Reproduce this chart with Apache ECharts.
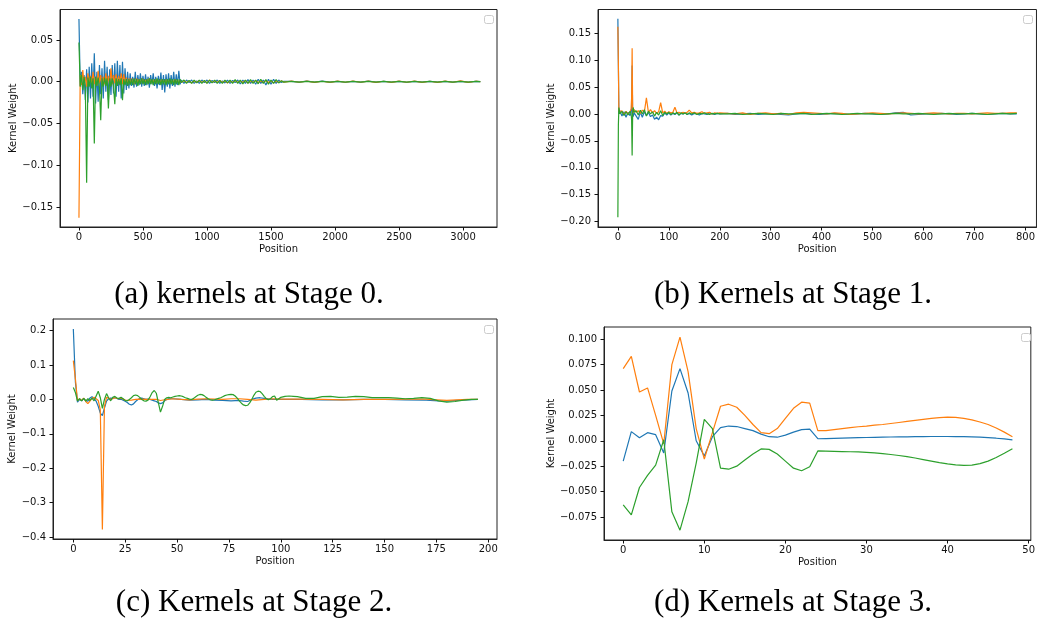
<!DOCTYPE html>
<html>
<head>
<meta charset="utf-8">
<script src="https://cdn.jsdelivr.net/npm/echarts@6/dist/echarts.min.js"></script>
<style>
  html, body { margin: 0; padding: 0; background: #fff; }
  #main { width: 1038px; height: 625px; }
</style>
</head>
<body>
<div id="main"></div>
<script>
// ---- Stage 0 (positions shared by the three kernels) ----
var s0Pos = [
  0, 10, 20, 30, 40, 50, 60, 70, 80, 90,
  100, 110, 120, 130, 140, 150, 160, 170, 180, 190,
  200, 210, 220, 230, 240, 250, 260, 270, 280, 290,
  300, 310, 320, 330, 340, 350, 360, 370, 380, 390,
  400, 410, 420, 430, 440, 450, 460, 470, 480, 490,
  500, 510, 520, 530, 540, 550, 560, 570, 580, 590,
  600, 610, 620, 630, 640, 650, 660, 670, 680, 690,
  700, 710, 720, 730, 740, 750, 760, 770, 780, 790,
  800,
  820, 840, 860, 880, 900, 920, 940, 960, 980, 1000,
  1020, 1040, 1060, 1080, 1100, 1120, 1140, 1160, 1180, 1200,
  1220, 1240, 1260, 1280, 1300, 1320, 1340, 1360, 1380, 1400,
  1420, 1440, 1460, 1480, 1500, 1520, 1540, 1560, 1580, 1600,
  1660, 1720, 1780, 1840, 1900, 1960, 2020, 2080, 2140, 2200,
  2260, 2320, 2380, 2440, 2500, 2560, 2620, 2680, 2740, 2800,
  2860, 2920, 2980, 3040, 3100, 3135
];
var s0Blue = [
  0.075, -0.005, 0.012, -0.015, 0.008, -0.022, 0.015, -0.025, 0.018, -0.02,
  0.022, -0.018, 0.034, -0.026, 0.012, -0.024, 0.02, -0.015, 0.016, -0.02,
  0.025, -0.012, 0.018, -0.022, 0.015, -0.016, 0.02, -0.014, 0.022, -0.018,
  0.025, -0.012, 0.02, -0.02, 0.024, -0.014, 0.016, -0.01, 0.012, -0.008,
  0.01, -0.005, 0.006, -0.007, 0.012, -0.006, 0.008, -0.004, 0.01, -0.006,
  0.007, -0.005, 0.009, -0.004, 0.006, -0.007, 0.008, -0.003, 0.01, -0.005,
  0.006, -0.008, 0.007, -0.004, 0.011, -0.01, 0.008, -0.013, 0.009, -0.006,
  0.01, -0.008, 0.008, -0.005, 0.012, -0.006, 0.009, -0.004, 0.013, -0.003,
  0.002,
  -0.002, 0.002, -0.001, 0.002, -0.002, 0.001, -0.002, 0.002, -0.001, 0.002,
  -0.002, 0.0015, -0.001, 0.002, -0.002, 0.001, -0.0015, 0.002, -0.002, 0.0015,
  -0.001, 0.002, -0.0025, 0.002, -0.002, 0.0025, -0.002, 0.002, -0.003, 0.003,
  -0.002, 0.002, -0.004, 0.003, -0.003, 0.003, -0.002, 0.002, -0.001, 0.0005,
  0.0005, -0.0005, 0.0008, -0.0004, 0.0006, -0.0005, 0.0004, -0.0006, 0.0005, -0.0004,
  0.0006, -0.0005, 0.0004, -0.0005, 0.0005, -0.0006, 0.0004, -0.0005, 0.0005, -0.0004,
  0.0005, -0.0005, 0.0004, -0.0004, 0.0003, 0.0
];
var s0Orange = [
  -0.163, 0.008, -0.004, 0.014, -0.003, 0.006, -0.006, 0.01, -0.002, 0.007,
  -0.004, 0.012, -0.003, 0.006, -0.005, 0.013, -0.002, 0.008, -0.004, 0.006,
  -0.003, 0.01, -0.002, 0.007, -0.004, 0.016, -0.003, 0.008, -0.002, 0.009,
  -0.004, 0.007, -0.002, 0.01, -0.003, 0.009, -0.002, 0.005, -0.003, 0.004,
  -0.002, 0.004, -0.002, 0.003, -0.003, 0.004, -0.001, 0.003, -0.002, 0.004,
  -0.002, 0.003, -0.001, 0.003, -0.002, 0.004, -0.002, 0.002, -0.001, 0.003,
  -0.002, 0.003, -0.001, 0.002, -0.002, 0.003, -0.001, 0.002, -0.002, 0.003,
  -0.001, 0.002, -0.002, 0.002, -0.001, 0.003, -0.001, 0.002, -0.002, 0.002,
  -0.001,
  0.0015, -0.001, 0.001, -0.0015, 0.001, -0.001, 0.0015, -0.001, 0.001, -0.0015,
  0.002, -0.001, 0.001, -0.001, 0.0015, -0.001, 0.001, -0.0015, 0.001, -0.001,
  0.0015, -0.001, 0.001, -0.001, 0.0015, -0.0015, 0.001, -0.001, 0.0015, -0.001,
  0.001, -0.001, 0.0015, -0.001, 0.001, -0.0015, 0.001, -0.001, 0.001, -0.0005,
  0.0008, -0.0006, 0.0007, -0.0008, 0.0006, -0.0007, 0.0008, -0.0006, 0.0007, -0.0006,
  0.0008, -0.0007, 0.0006, -0.0008, 0.0007, -0.0006, 0.0008, -0.0007, 0.0006, -0.0007,
  0.0008, -0.0006, 0.001, -0.0007, 0.0006, 0.0
];
var s0Green = [
  0.047, -0.006, 0.008, -0.01, 0.006, -0.008, -0.121, 0.005, -0.006, 0.006,
  -0.008, 0.004, -0.074, 0.006, -0.005, 0.005, -0.007, -0.046, 0.004, -0.006,
  0.005, -0.005, 0.004, -0.032, 0.004, -0.006, 0.004, -0.005, -0.027, 0.004,
  -0.005, 0.003, -0.004, 0.004, -0.022, 0.003, -0.004, 0.003, -0.005, 0.003,
  -0.004, 0.003, -0.004, 0.004, -0.003, 0.003, -0.005, 0.003, -0.003, 0.004,
  -0.003, 0.003, -0.004, 0.003, -0.003, 0.004, -0.003, 0.003, -0.004, 0.003,
  -0.003, 0.004, -0.003, 0.003, -0.004, 0.003, -0.003, 0.003, -0.004, 0.003,
  -0.003, 0.004, -0.003, 0.003, -0.004, 0.003, -0.003, 0.003, -0.004, 0.003,
  -0.001,
  0.002, -0.002, 0.0015, -0.002, 0.002, -0.0015, 0.002, -0.002, 0.0015, -0.002,
  0.002, -0.0015, 0.002, -0.002, 0.0015, -0.002, 0.002, -0.0015, 0.002, -0.002,
  0.0025, -0.002, 0.002, -0.0025, 0.002, -0.002, 0.0025, -0.002, 0.002, -0.0025,
  0.003, -0.002, 0.0025, -0.003, 0.002, -0.002, 0.0025, -0.0015, 0.001, -0.0005,
  0.0005, -0.0005, 0.0004, -0.0005, 0.0005, -0.0004, 0.0005, -0.0005, 0.0004, -0.0005,
  0.0005, -0.0004, 0.0005, -0.0005, 0.0004, -0.0005, 0.0005, -0.0004, 0.0005, -0.0005,
  0.0004, -0.0005, 0.0005, -0.0004, 0.0004, 0.0
];

// ---- Stage 1 ----
var s1Pos = [
  0, 1, 2, 4, 8, 12, 16, 20, 24, 26,
  27, 28, 29, 30, 32, 36, 40, 44, 48, 52,
  56, 60, 64, 68, 72, 76, 80, 84, 88, 92,
  96, 100, 104, 108, 112, 116, 120, 124, 128, 132,
  136, 140,
  145, 150, 155, 160, 165, 170, 175, 180, 185, 190, 195, 200,
  215, 230, 245, 260, 275, 290, 305, 320, 335, 350,
  365, 380, 395, 410, 425, 440, 455, 470, 485, 500,
  515, 530, 545, 560, 575, 590, 605, 620, 635, 650,
  665, 680, 695, 710, 725, 740, 755, 770,
  783
];
var s1Blue = [
  0.177, 0.09, 0.0, 0.006, -0.004, 0.004, -0.006, 0.003, -0.003, 0.002,
  0.01, 0.09, 0.0, -0.005, 0.002, -0.004, -0.01, 0.003, -0.006, 0.004,
  -0.003, 0.003, -0.005, -0.002, -0.01, -0.006, -0.011, -0.003, -0.004, 0.002,
  -0.002, 0.002, -0.002, 0.001, -0.001, 0.002, -0.002, 0.001, 0.0, 0.002,
  -0.001, 0.001,
  -0.002, 0.001, 0.0, -0.002, 0.001, 0.0, -0.001, 0.002, 0.0, -0.001, 0.001, 0.0,
  0.001, -0.001, 0.0, 0.001, -0.001, 0.0, 0.0, -0.001, -0.002, 0.0,
  0.001, 0.0, -0.001, 0.0, 0.001, 0.0, -0.001, 0.0, 0.001, 0.0,
  -0.001, 0.0, 0.002, 0.003, -0.002, -0.001, 0.0, 0.0, 0.001, 0.0,
  -0.001, 0.0, 0.001, 0.0, -0.001, 0.0, 0.001, 0.0,
  0.0
];
var s1Orange = [
  0.162, 0.095, 0.004, 0.002, 0.006, -0.002, 0.005, 0.0, 0.004, 0.01,
  0.03, 0.122, 0.01, 0.002, 0.008, 0.003, 0.006, 0.001, 0.007, 0.004,
  0.03, 0.003, 0.008, 0.002, 0.006, 0.001, 0.004, 0.021, 0.002, 0.005,
  0.001, 0.004, 0.002, 0.003, 0.0125, 0.002, 0.003, 0.001, 0.003, 0.001,
  0.003, 0.007,
  0.002, 0.003, 0.001, 0.002, 0.004, 0.001, 0.002, 0.003, 0.0, 0.002, 0.001, 0.002,
  0.001, 0.0, 0.002, -0.001, 0.001, 0.002, 0.0, 0.001, -0.001, 0.002,
  0.003, 0.002, 0.001, 0.0, 0.002, 0.001, -0.001, 0.0, 0.001, 0.002,
  0.001, 0.0, 0.001, 0.002, 0.001, 0.0, 0.001, 0.002, 0.001, 0.0,
  0.001, 0.001, 0.0, 0.001, 0.002, 0.001, 0.001, 0.002,
  0.002
];
var s1Green = [
  -0.192, -0.02, 0.012, 0.0, 0.005, -0.003, 0.004, -0.002, 0.005, 0.0,
  -0.01, -0.077, 0.0, 0.012, 0.003, 0.006, -0.002, 0.007, 0.0, 0.008,
  -0.004, 0.005, 0.0, 0.004, -0.004, 0.003, -0.002, 0.006, -0.003, 0.003,
  0.0, 0.003, -0.001, 0.002, 0.0, 0.003, -0.002, 0.002, 0.0, 0.002,
  -0.001, 0.002,
  0.0, 0.002, -0.001, 0.001, 0.0, 0.002, 0.0, -0.001, 0.001, 0.0, 0.001, 0.0,
  0.0, 0.001, -0.001, 0.0, 0.001, 0.0, -0.001, 0.001, 0.0, 0.0,
  0.001, -0.001, 0.0, 0.001, 0.0, -0.001, 0.0, 0.001, 0.0, 0.0,
  -0.001, 0.0, 0.001, 0.0, 0.0, 0.001, 0.0, -0.001, 0.0, 0.001,
  0.0, 0.0, 0.001, 0.0, -0.001, 0.0, 0.001, 0.0,
  0.001
];

// ---- Stage 2 ([position, weight]) ----
var s2Blue = [
  [0, 0.205], [1, 0.05], [2, -0.008], [3, 0.0], [4, -0.004], [5, 0.003], [6, -0.003], [7, -0.005], [8, 0.004], [9, 0.008],
  [10, 0.002], [11, -0.005], [12, -0.02], [13, -0.04], [14, -0.047], [15, -0.025], [16, -0.005], [17, 0.002], [18, 0.004], [19, 0.003],
  [20, 0.005], [21, 0.003], [22, 0.0], [23, 0.001], [24, -0.002], [25, -0.005], [26, -0.009], [27, -0.014], [28, -0.016], [29, -0.013],
  [30, -0.006], [31, -0.001], [32, 0.003], [33, 0.004], [34, 0.002], [35, 0.0], [36, 0.001], [37, 0.0], [38, -0.002], [39, -0.004],
  [40, -0.006], [41, -0.01], [42, -0.012], [43, -0.01], [44, -0.004], [45, 0.0], [46, 0.002], [48, 0.002], [52, 0.0], [56, -0.002],
  [60, -0.001], [64, 0.0], [68, -0.002], [72, -0.003], [76, -0.004], [80, -0.003], [82, -0.005], [84, -0.006], [86, 0.0], [88, 0.004],
  [90, 0.005], [92, 0.003], [96, 0.0], [100, 0.0], [110, 0.0], [120, -0.001], [130, -0.001], [140, 0.0], [150, 0.0], [160, -0.001],
  [170, -0.002], [176, -0.004], [180, -0.005], [185, -0.003], [190, -0.001], [195, 0.0]
];
var s2Orange = [
  [0, 0.113], [1, 0.06], [2, -0.004], [3, 0.002], [4, -0.003], [5, 0.004], [6, -0.006], [7, -0.012], [8, -0.005], [9, 0.003],
  [10, 0.006], [11, 0.002], [12, -0.003], [13, -0.03], [14, -0.378], [15, -0.02], [16, 0.006], [17, 0.004], [18, 0.0], [19, 0.002],
  [20, 0.005], [21, 0.003], [22, 0.002], [23, 0.004], [24, 0.001], [25, -0.002], [26, -0.003], [28, -0.002], [30, 0.0], [32, 0.001],
  [36, 0.0], [40, 0.0], [42, -0.003], [44, -0.001], [48, 0.002], [52, 0.0], [56, -0.001], [60, 0.001], [64, 0.002], [68, 0.001],
  [72, 0.0], [76, 0.002], [80, 0.002], [84, 0.0], [88, -0.002], [92, 0.0], [96, 0.002], [100, 0.001], [110, 0.001], [120, 0.0],
  [130, -0.001], [140, 0.0], [150, 0.0], [160, 0.001], [170, 0.001], [175, -0.001], [180, -0.003], [185, -0.001], [190, 0.0], [195, 0.0]
];
var s2Green = [
  [0, 0.035], [1, 0.02], [2, -0.004], [3, 0.002], [4, -0.004], [5, 0.003], [6, -0.005], [7, 0.002], [8, -0.003], [9, 0.004],
  [10, -0.004], [11, 0.01], [12, 0.024], [13, 0.005], [14, -0.026], [15, 0.0], [16, 0.017], [17, 0.005], [18, -0.004], [19, 0.006],
  [20, 0.009], [21, 0.004], [22, 0.003], [23, 0.006], [24, 0.002], [25, -0.003], [26, -0.004], [27, 0.0], [28, 0.005], [29, 0.011],
  [30, 0.013], [31, 0.011], [32, 0.006], [33, 0.0], [34, -0.004], [35, -0.005], [36, -0.002], [37, 0.008], [38, 0.02], [39, 0.026],
  [40, 0.018], [41, -0.01], [42, -0.037], [43, -0.02], [44, 0.0], [45, 0.005], [46, 0.006], [47, 0.005], [48, 0.007], [49, 0.009],
  [50, 0.01], [51, 0.011], [52, 0.01], [53, 0.008], [54, 0.005], [55, 0.003], [56, 0.001], [57, 0.0], [58, 0.003], [59, 0.008],
  [60, 0.012], [61, 0.0145], [62, 0.014], [63, 0.011], [64, 0.006], [65, 0.002], [66, -0.001], [67, -0.002], [68, -0.001], [69, 0.001],
  [70, 0.003], [71, 0.005], [72, 0.008], [73, 0.011], [74, 0.013], [75, 0.014], [76, 0.0145], [77, 0.014], [78, 0.01], [79, 0.004],
  [80, -0.004], [81, -0.011], [82, -0.016], [83, -0.018], [84, -0.017], [85, -0.01], [86, 0.0], [87, 0.012], [88, 0.021], [89, 0.024],
  [90, 0.023], [91, 0.017], [92, 0.009], [93, 0.002], [94, -0.001], [95, 0.002], [96, 0.008], [97, 0.01], [98, -0.002], [99, 0.002],
  [100, 0.006], [102, 0.009], [104, 0.01], [106, 0.009], [108, 0.008], [112, 0.003], [116, 0.003], [120, 0.008], [124, 0.009], [128, 0.006],
  [132, 0.007], [136, 0.009], [140, 0.008], [144, 0.005], [148, 0.005], [152, 0.005], [156, 0.004], [160, 0.002], [164, 0.003], [168, 0.005],
  [172, 0.003], [176, -0.004], [180, -0.008], [184, -0.006], [188, -0.002], [192, 0.0], [195, 0.0]
];

// ---- Stage 3 ----
var s3Pos = [
  0, 1, 2, 3, 4, 5, 6, 7, 8, 9,
  10, 11, 12, 13, 14, 15, 16, 17, 18, 19,
  20, 21, 22, 23, 24, 25, 26, 27, 28, 29,
  30, 31, 32, 33, 34, 35, 36, 37, 38, 39,
  40, 41, 42, 43, 44, 45, 46, 47, 48
];
var s3Blue = [
  -0.020, 0.009, 0.003, 0.008, 0.006, -0.012, 0.049, 0.071, 0.047, 0.000,
  -0.015, 0.004, 0.013, 0.0145, 0.014, 0.012, 0.010, 0.0065, 0.004, 0.0035,
  0.0055, 0.0085, 0.011, 0.0115, 0.002, 0.0022, 0.0024, 0.0026, 0.0028, 0.003,
  0.0032, 0.0034, 0.0036, 0.0037, 0.0038, 0.0039, 0.004, 0.0041, 0.0042, 0.0042,
  0.0042, 0.0041, 0.004, 0.0038, 0.0035, 0.003, 0.0025, 0.0018, 0.0008
];
var s3Orange = [
  0.071, 0.083, 0.048, 0.052, 0.025, -0.003, 0.075, 0.102, 0.068, 0.012,
  -0.018, 0.008, 0.034, 0.036, 0.033, 0.025, 0.016, 0.008, 0.007, 0.012,
  0.022, 0.032, 0.038, 0.037, 0.010, 0.010, 0.011, 0.012, 0.013, 0.0138,
  0.0145, 0.0153, 0.016, 0.017, 0.018, 0.019, 0.020, 0.021, 0.022, 0.0228,
  0.0232, 0.023, 0.022, 0.0205, 0.0185, 0.016, 0.0125, 0.0085, 0.004
];
var s3Green = [
  -0.063, -0.073, -0.046, -0.034, -0.024, 0.001, -0.070, -0.088, -0.060, -0.022,
  0.021, 0.012, -0.027, -0.028, -0.025, -0.019, -0.013, -0.008, -0.0085, -0.013,
  -0.020, -0.027, -0.0295, -0.0255, -0.010, -0.0102, -0.0104, -0.0106, -0.0108, -0.011,
  -0.0115, -0.012, -0.0127, -0.0135, -0.0145, -0.0157, -0.017, -0.0185, -0.020, -0.0215,
  -0.0228, -0.0238, -0.0243, -0.024, -0.0225, -0.020, -0.0165, -0.0122, -0.0078
];

// tick labels of each panel
var xTicks = [
  [0, 500, 1000, 1500, 2000, 2500, 3000],
  [0, 100, 200, 300, 400, 500, 600, 700, 800],
  [0, 25, 50, 75, 100, 125, 150, 175, 200],
  [0, 10, 20, 30, 40, 50]
];
var yTicks = [
  [-0.15, -0.10, -0.05, 0.00, 0.05],
  [-0.20, -0.15, -0.10, -0.05, 0.00, 0.05, 0.10, 0.15],
  [-0.4, -0.3, -0.2, -0.1, 0.0, 0.1, 0.2],
  [-0.075, -0.050, -0.025, 0.000, 0.025, 0.050, 0.075, 0.100]
];
var yDigits = [2, 2, 1, 3];
var captions = ['(a) kernels at Stage 0.', '(b) Kernels at Stage 1.', '(c) Kernels at Stage 2.', '(d) Kernels at Stage 3.'];

// ---- layout ----
var grids = [
  { left: 60, top: 9.5, width: 437, height: 217.5 },
  { left: 598, top: 9.5, width: 439, height: 217.5 },
  { left: 53, top: 319, width: 444, height: 220 },
  { left: 604, top: 327, width: 429, height: 213 }
];
var xRange = [[-148, 3265], [-39, 821.6], [-9.8, 204.2], [-2.37, 50.27]];
var yRange = [[-0.174, 0.0865], [-0.21, 0.194], [-0.406, 0.234], [-0.0977, 0.112]];
var yNameGap = [38, 38, 31, 44];
var captionPos = [[249, 295], [793, 295], [254, 603], [793, 603]];
var legendPos = [[484.5, 15.5], [1023.5, 15.5], [484.5, 325.5], [1021.5, 333.5]];

var colors = ['#1f77b4', '#ff7f0e', '#2ca02c'];
var tickFont = 'DejaVu Sans';
var ink = '#111';

function zip(pos, vals) {
  return pos.map(function (p, i) { return [p, vals[i]]; });
}
function fmtY(d) {
  return function (v) {
    var s = Math.abs(v).toFixed(d);
    return (v < 0 ? '\u2212' : '') + s;
  };
}
function fmtX(v) {
  return String(Math.round(v));
}

var panels = [
  [zip(s0Pos, s0Blue), zip(s0Pos, s0Orange), zip(s0Pos, s0Green)],
  [zip(s1Pos, s1Blue), zip(s1Pos, s1Orange), zip(s1Pos, s1Green)],
  [s2Blue, s2Orange, s2Green],
  [zip(s3Pos, s3Blue), zip(s3Pos, s3Orange), zip(s3Pos, s3Green)]
];

var xAxes = [], yAxes = [], series = [], graphics = [];
grids.forEach(function (g, k) {
  g.show = true;
  g.borderColor = '#222';
  g.borderWidth = 1;
  g.containLabel = false;

  xAxes.push({
    type: 'value', gridIndex: k, min: xRange[k][0], max: xRange[k][1],
    name: 'Position', nameLocation: 'middle', nameGap: 17,
    nameTextStyle: { fontFamily: tickFont, fontSize: 10, color: ink },
    axisLine: { show: true, onZero: false, lineStyle: { color: '#222', width: 1 } },
    axisTick: { show: true, length: 3.5, customValues: xTicks[k], lineStyle: { color: ink } },
    axisLabel: { customValues: xTicks[k], margin: 5, fontFamily: tickFont, fontSize: 10, color: ink, formatter: fmtX },
    splitLine: { show: false }
  });
  yAxes.push({
    type: 'value', gridIndex: k, min: yRange[k][0], max: yRange[k][1],
    name: 'Kernel Weight', nameLocation: 'middle', nameGap: yNameGap[k],
    nameTextStyle: { fontFamily: tickFont, fontSize: 10, color: ink },
    axisLine: { show: true, onZero: false, lineStyle: { color: '#222', width: 1 } },
    axisTick: { show: true, length: 3.5, customValues: yTicks[k], lineStyle: { color: ink } },
    axisLabel: { customValues: yTicks[k], margin: 7, fontFamily: tickFont, fontSize: 10, color: ink, formatter: fmtY(yDigits[k]) },
    splitLine: { show: false }
  });

  panels[k].forEach(function (d, j) {
    series.push({
      type: 'line', xAxisIndex: k, yAxisIndex: k, data: d,
      showSymbol: false, symbol: 'none', clip: true,
      lineStyle: { color: colors[j], width: 1.2 },
      emphasis: { disabled: true }
    });
  });

  // empty legend box in the upper right corner
  graphics.push({
    type: 'rect', z: 100,
    shape: { x: legendPos[k][0], y: legendPos[k][1], width: 9, height: 8, r: 2 },
    style: { fill: '#fff', stroke: '#cccccc', lineWidth: 1 }
  });
  // sub-figure caption
  graphics.push({
    type: 'text', z: 100, x: captionPos[k][0], y: captionPos[k][1],
    style: {
      text: captions[k], align: 'center', verticalAlign: 'middle',
      font: '31px "Liberation Serif", serif', fill: '#000'
    }
  });
});

var chart = echarts.init(document.getElementById('main'), null, { renderer: 'canvas' });
chart.setOption({
  animation: false,
  backgroundColor: '#fff',
  grid: grids,
  xAxis: xAxes,
  yAxis: yAxes,
  series: series,
  graphic: graphics
});
</script>
</body>
</html>
